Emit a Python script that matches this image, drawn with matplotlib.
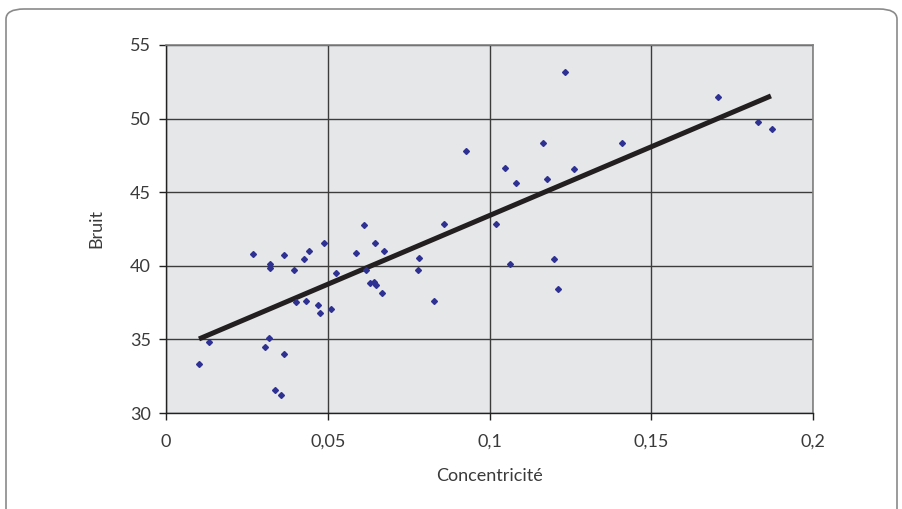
import matplotlib
matplotlib.use("Agg")
import matplotlib.pyplot as plt
from matplotlib.patches import FancyBboxPatch

# Concentricité (x) vs Bruit (y)
concentricite = [0.0102, 0.0133, 0.0269, 0.0306, 0.0318, 0.0322, 0.0321, 0.0337,
                 0.0355, 0.0364, 0.0366, 0.0397, 0.0401, 0.0428, 0.0432, 0.0442,
                 0.0471, 0.0475, 0.0487, 0.0510, 0.0525, 0.0586, 0.0613, 0.0617,
                 0.0630, 0.0644, 0.0650, 0.0646, 0.0669, 0.0675, 0.0782, 0.0780,
                 0.0828, 0.0860, 0.0928, 0.1019, 0.1048, 0.1064, 0.1083, 0.1165,
                 0.1178, 0.1198, 0.1211, 0.1233, 0.1260, 0.1411, 0.1707, 0.1829,
                 0.1872]
bruit = [33.33, 34.82, 40.80, 34.46, 35.10, 40.12, 39.85, 31.56,
         31.24, 34.01, 40.75, 39.71, 37.52, 40.48, 37.63, 41.03,
         37.36, 36.77, 41.57, 37.09, 39.53, 40.85, 42.79, 39.71,
         38.85, 38.88, 38.68, 41.57, 38.17, 40.99, 40.53, 39.71,
         37.59, 42.84, 47.78, 42.84, 46.64, 40.12, 45.65, 48.36,
         45.88, 40.48, 38.40, 53.17, 46.56, 48.36, 51.45, 49.77,
         49.27]

# linear trendline end points
trend_x = [0.0102, 0.1870]
trend_y = [35.03, 51.54]

x_ticks = [0, 0.05, 0.1, 0.15, 0.2]
x_labels = ["0", "0,05", "0,1", "0,15", "0,2"]
y_ticks = [30, 35, 40, 45, 50, 55]

plt.rcParams['font.family'] = ['Lato', 'DejaVu Sans']
txt = '#3a3a3a'

fig = plt.figure(figsize=(9.02, 5.09), dpi=100)
ax = fig.add_axes([166/902, 1 - 413/509, (813-166)/902, (413-45)/509])

# outer rounded frame
frame = FancyBboxPatch((6/902, -0.1), (897-6)/902, (509-9)/509 + 0.1,
                       boxstyle="round,pad=0,rounding_size=0.02",
                       transform=fig.transFigure, fill=False,
                       edgecolor='#8a8a8a', linewidth=1.2, clip_on=False)
fig.patches.append(frame)

ax.set_facecolor('#e6e7e9')
ax.plot(trend_x, trend_y, color='#231f20', linewidth=3.6, solid_capstyle='butt', zorder=3)
ax.plot(concentricite, bruit, linestyle='none', marker='D', markersize=3.0,
        color='#2e3192', zorder=4)

ax.set_xlim(0, 0.2)
ax.set_ylim(30, 55)
ax.set_xticks(x_ticks)
ax.set_xticklabels(x_labels)
ax.set_yticks(y_ticks)
ax.grid(True, color='#3c3c3c', linewidth=1.0, zorder=1)
ax.set_axisbelow(True)

for s in ['top', 'right']:
    ax.spines[s].set_color('#808080')
    ax.spines[s].set_linewidth(1.2)
for s in ['left', 'bottom']:
    ax.spines[s].set_color('#222222')
    ax.spines[s].set_linewidth(1.0)

ax.tick_params(axis='both', direction='out', length=5, width=1.0,
               color='#222222', labelsize=13, labelcolor=txt)
ax.tick_params(axis='y', pad=6)
ax.tick_params(axis='x', pad=10)

ax.set_xlabel('Concentricité', fontsize=13, color=txt, labelpad=13)
ax.set_ylabel('Bruit', fontsize=13, color=txt, labelpad=18)

fig.savefig('out.png', dpi=100)
